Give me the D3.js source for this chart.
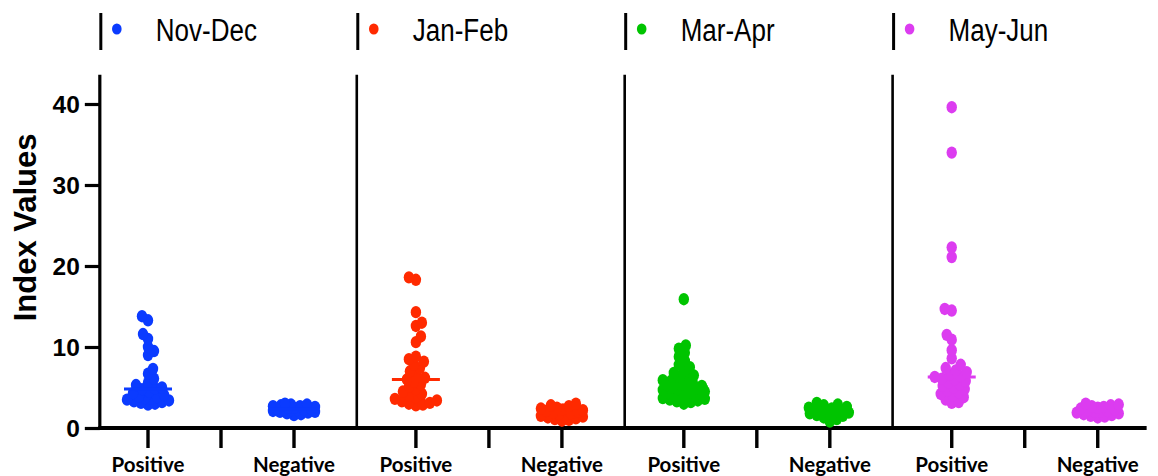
<!DOCTYPE html>
<html>
<head>
<meta charset="utf-8">
<script src="https://cdn.jsdelivr.net/npm/d3@7"></script>
<style>
  html, body { margin: 0; padding: 0; background: #fff; }
  svg { display: block; }
</style>
</head>
<body>
<svg id="chart" width="1158" height="476"></svg>
<script>
// ---------- data ----------
const periods = ["Nov-Dec", "Jan-Feb", "Mar-Apr", "May-Jun"];
const statusLabels = ["Positive", "Negative"];
const periodColors = ["#0b3bff", "#ff2a00", "#00c400", "#dc3cf0"];
const yTickValues = [0, 10, 20, 30, 40];
const yTitle = "Index Values";

const novDecPositive = [13.8, 13.3, 11.6, 11.0, 10.0, 9.5, 9.0, 7.3, 6.7, 6.1, 5.6, 5.3, 5.0, 4.9, 4.8,
  4.5, 4.3, 4.1, 3.9, 3.8, 3.7, 3.6, 3.5, 3.4, 3.3, 3.2, 3.1, 3.0, 2.9];
const novDecNegative = [3.0, 2.9, 2.9, 2.8, 2.7, 2.7, 2.6, 2.5, 2.5, 2.4, 2.4, 2.3, 2.3, 2.2, 2.2, 2.1,
  2.0, 2.0, 1.9, 1.8, 1.7, 1.6];
const janFebPositive = [18.6, 18.3, 14.3, 13.0, 12.6, 11.3, 10.6, 8.8, 8.5, 8.2, 7.8, 7.4, 7.0, 6.6, 6.2,
  6.0, 5.7, 5.4, 5.1, 4.8, 4.5, 4.2, 4.0, 3.8, 3.6, 3.4, 3.3, 3.1, 3.0, 2.9, 2.8];
const janFebNegative = [3.0, 2.8, 2.7, 2.5, 2.4, 2.3, 2.2, 2.1, 2.0, 1.9, 1.8, 1.7, 1.6, 1.5, 1.4, 1.3,
  1.2, 1.1, 1.0, 0.9];
const marAprPositive = [15.9, 10.2, 9.8, 9.3, 8.8, 8.3, 7.8, 7.5, 7.1, 6.8, 6.5, 6.3, 6.1, 5.9, 5.8, 5.6,
  5.5, 5.4, 5.3, 5.2, 5.1, 5.0, 4.9, 4.8, 4.7, 4.6, 4.5, 4.4, 4.3, 4.2, 4.1, 4.0, 3.9, 3.8, 3.7, 3.6,
  3.5, 3.4, 3.3, 3.2, 3.0];
const marAprNegative = [3.1, 2.9, 2.8, 2.6, 2.5, 2.4, 2.3, 2.2, 2.1, 2.0, 2.0, 1.9, 1.8, 1.7, 1.6, 1.5,
  1.3, 1.1, 0.8];
const mayJunPositive = [39.6, 34.0, 22.3, 21.1, 14.7, 14.5, 11.5, 10.9, 9.6, 8.6, 7.8, 7.4, 7.1, 6.9, 6.6,
  6.4, 6.3, 6.1, 6.0, 5.8, 5.6, 5.4, 5.2, 5.0, 4.8, 4.6, 4.4, 4.2, 4.0, 3.8, 3.5, 3.2, 3.1];
const mayJunNegative = [3.0, 2.9, 2.8, 2.7, 2.6, 2.5, 2.4, 2.3, 2.2, 2.1, 2.0, 2.0, 1.9, 1.8, 1.7, 1.6,
  1.5, 1.4, 1.3];

const seriesByPeriod = [
  [novDecPositive, novDecNegative],
  [janFebPositive, janFebNegative],
  [marAprPositive, marAprNegative],
  [mayJunPositive, mayJunNegative]
];

// ---------- layout ----------
const svg = d3.select("#chart");
const PANEL_UNITS = 3.67;   // distance between panels in slot units
const SEP_OFFSET = 2.86;    // separator position within a panel (slot units)
const AXIS_START = -0.66;
const AXIS_END = 3 * PANEL_UNITS + 2.67;

const x = d3.scaleLinear().domain([0, 1]).range([148, 221]);
const y = d3.scaleLinear().domain([0, 40]).range([428, 104]);
const yTopValue = 43.6;

const slotPos = (p, k) => x(p * PANEL_UNITS + k);   // k: 0 positive, 1 middle, 2 negative

// ---------- axes ----------
const yAxis = d3.axisLeft(y).tickValues(yTickValues).tickSize(15).tickPadding(5).tickFormat(d3.format("d"));
const yG = svg.append("g").attr("transform", `translate(${x(AXIS_START)},0)`).call(yAxis);
yG.select(".domain").remove();
yG.selectAll(".tick line").attr("stroke", "#000").attr("stroke-width", 3.2);
yG.selectAll(".tick text")
  .attr("fill", "#000")
  .style("font-family", "'Liberation Sans', Arial, sans-serif")
  .style("font-weight", "bold")
  .style("font-size", "24.5px")
  .attr("dy", "0.36em");

svg.append("line")
  .attr("x1", x(AXIS_START)).attr("x2", x(AXIS_START))
  .attr("y1", y(yTopValue)).attr("y2", y(0) + 1.5)
  .attr("stroke", "#000").attr("stroke-width", 3.2);

// separators between periods
const sepUnits = [0, 1, 2].map(p => p * PANEL_UNITS + SEP_OFFSET);
svg.selectAll("line.sep").data(sepUnits).join("line")
  .attr("class", "sep")
  .attr("x1", d => x(d)).attr("x2", d => x(d))
  .attr("y1", y(yTopValue)).attr("y2", y(0))
  .attr("stroke", "#000").attr("stroke-width", 2.6);

// x axis line
svg.append("line")
  .attr("x1", x(AXIS_START) - 1.5).attr("x2", x(AXIS_END))
  .attr("y1", y(0)).attr("y2", y(0))
  .attr("stroke", "#000").attr("stroke-width", 4);

// x ticks
const xTickUnits = [];
periods.forEach((_, p) => [0, 1, 2].forEach(k => xTickUnits.push(p * PANEL_UNITS + k)));
svg.selectAll("line.xt").data(xTickUnits).join("line")
  .attr("class", "xt")
  .attr("x1", d => x(d)).attr("x2", d => x(d))
  .attr("y1", y(0)).attr("y2", y(0) + 20)
  .attr("stroke", "#000").attr("stroke-width", 3.4);

// x labels
const xLabelData = [];
periods.forEach((_, p) => statusLabels.forEach((s, i) => xLabelData.push({ u: p * PANEL_UNITS + i * 2, s })));
svg.selectAll("text.xl").data(xLabelData).join("text")
  .attr("class", "xl")
  .attr("x", d => x(d.u)).attr("y", 472)
  .attr("text-anchor", "middle")
  .style("font-family", "Lato, 'Open Sans', sans-serif")
  .style("font-weight", "bold")
  .style("font-size", "20.5px")
  .attr("fill", "#000")
  .text(d => d.s);

// y title
svg.append("text")
  .attr("transform", `translate(36,${(y(0) + y(yTopValue)) / 2 - 24}) rotate(-90)`)
  .attr("text-anchor", "middle")
  .style("font-family", "'Liberation Sans', Arial, sans-serif")
  .style("font-weight", "bold")
  .style("font-size", "31px")
  .attr("fill", "#000")
  .text(yTitle);

// ---------- beeswarm (bounded width) ----------
const RX = 5.2, RY = 6.2;
const HALF_W = 21;
function swarm(values, cx) {
  const pts = values.map(v => ({ v, py: y(v) })).sort((a, b) => b.py - a.py);
  const placed = [];
  const minD = 6.4;
  const offs = [0];
  for (let s = 1; s <= HALF_W; s++) offs.push(s, -s);
  pts.forEach((pt, i) => {
    let chosen = null, bestScore = -1, bestOff = 0;
    const order = i % 2 ? offs : offs.map(o => -o);
    for (const off of order) {
      let md = Infinity;
      for (const q of placed) {
        const dx = q.px - (cx + off), dy = (q.py - pt.py) / 1.15;
        md = Math.min(md, Math.sqrt(dx * dx + dy * dy));
      }
      if (md >= minD) { chosen = off; break; }
      if (md > bestScore) { bestScore = md; bestOff = off; }
    }
    pt.px = cx + (chosen !== null ? chosen : bestOff);
    placed.push(pt);
  });
  return placed;
}

seriesByPeriod.forEach((pair, p) => {
  pair.forEach((vals, k) => {
    const cx = slotPos(p, k * 2);
    const pts = swarm(vals, cx);
    const g = svg.append("g");
    g.selectAll("ellipse").data(pts).join("ellipse")
      .attr("cx", d => d.px).attr("cy", d => d.py)
      .attr("rx", RX).attr("ry", RY)
      .attr("fill", periodColors[p]);
    const med = d3.median(vals);
    g.append("line")
      .attr("x1", cx - 24).attr("x2", cx + 24)
      .attr("y1", y(med)).attr("y2", y(med))
      .attr("stroke", periodColors[p]).attr("stroke-width", 3);
  });
});

// ---------- legend ----------
const legendX = [x(AXIS_START) + 1, ...sepUnits.map(u => x(u) + 1)];
const lg = svg.selectAll("g.lg").data(periods).join("g")
  .attr("class", "lg")
  .attr("transform", (d, i) => `translate(${legendX[i]},0)`);
lg.append("line").attr("x1", 0).attr("x2", 0).attr("y1", 13).attr("y2", 50)
  .attr("stroke", "#000").attr("stroke-width", 3);
lg.append("ellipse").attr("cx", 16).attr("cy", 29).attr("rx", 4.8).attr("ry", 5.6)
  .attr("fill", (d, i) => periodColors[i]);
lg.append("text")
  .attr("transform", "translate(55,41) scale(1,1.2)")
  .style("font-family", "'Liberation Sans', Arial, sans-serif")
  .style("font-size", "26px")
  .attr("fill", "#000")
  .text(d => d);
</script>
</body>
</html>
